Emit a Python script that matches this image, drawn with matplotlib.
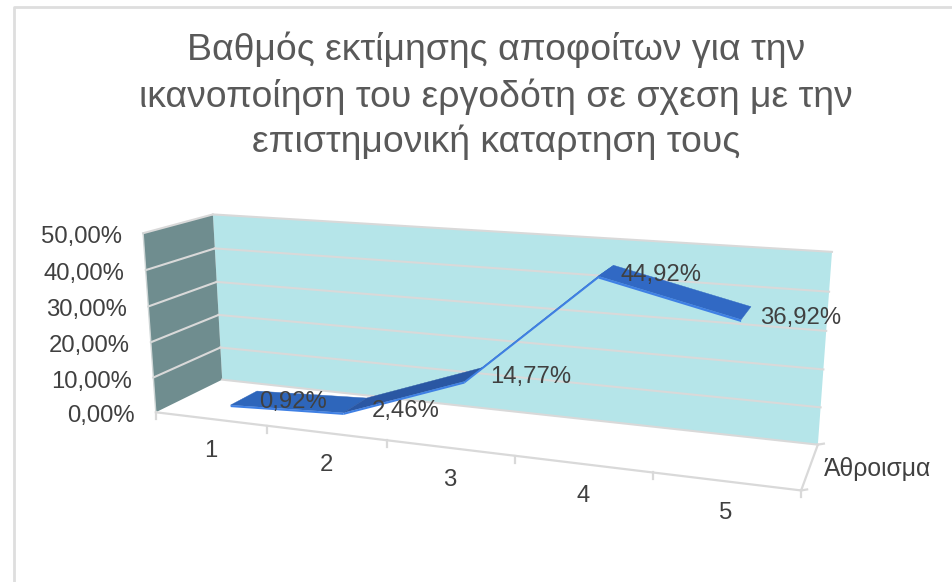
import numpy as np
import matplotlib
matplotlib.use("Agg")
import matplotlib.pyplot as plt
from matplotlib.patches import Polygon

categories = ["1", "2", "3", "4", "5"]
values = [0.92, 2.46, 14.77, 44.92, 36.92]
value_labels = ["0,92%", "2,46%", "14,77%", "44,92%", "36,92%"]
y_ticks = [0, 10, 20, 30, 40, 50]
y_tick_labels = ["0,00%", "10,00%", "20,00%", "30,00%", "40,00%", "50,00%"]
series_name = "Άθροισμα"
title = ("Βαθμός εκτίμησης αποφοίτων για την\n"
         "ικανοποίηση του εργοδότη σε σχεση με την\n"
         "επιστημονική καταρτηση τους")

plt.rcParams['font.family'] = ['Liberation Sans', 'DejaVu Sans']
W, H = 953, 582
fig = plt.figure(figsize=(W / 100, H / 100), dpi=100)
ax = fig.add_axes([0, 0, 1, 1])
ax.set_xlim(0, W)
ax.set_ylim(H, 0)
ax.axis("off")

# camera of the 3D box, solved from the box corners on screen
# (u along categories, v up, d into the depth)
corners = [((0, 1, 1), (213, 214.5)), ((0, 0, 1), (222, 380)),
           ((1, 1, 1), (832, 252)), ((1, 0, 1), (818, 444)),
           ((0, 1, 0), (143, 233)), ((0, 0, 0), (156, 412)),
           ((1, 0, 0), (801, 491))]
A, b = [], []
for (u, v, d), (x, y) in corners:
    A.append([u, v, d, 1, 0, 0, 0, 0, -x * u, -x * v, -x * d])
    b.append(x)
    A.append([0, 0, 0, 0, u, v, d, 1, -y * u, -y * v, -y * d])
    b.append(y)
P = np.append(np.linalg.lstsq(np.array(A, float), np.array(b, float), rcond=None)[0], 1).reshape(3, 4)


def proj(u, val, d):
    """category fraction, value in %, depth -> screen point"""
    q = P @ np.array([u, val / 50.0, d, 1.0])
    return q[0] / q[2], q[1] / q[2]


GRID = "#d9d9d9"
TEXT = "#404040"
FS = 17.2

# frame
ax.plot([14.5, 14.5, W], [H, 7, 7], color="#dedede", lw=2.0, zorder=1)

# walls
ax.add_patch(Polygon([proj(0, 0, 1), proj(1, 0, 1), proj(1, 50, 1), proj(0, 50, 1)],
                     fc="#b5e5e9", ec="none", zorder=2))
ax.add_patch(Polygon([proj(0, 0, 0), proj(0, 0, 1), proj(0, 50, 1), proj(0, 50, 0)],
                     fc="#6f8d8f", ec="none", zorder=2))

# gridlines
for t in y_ticks[1:]:
    ax.plot(*zip(proj(0, t, 1), proj(1, t, 1)), color=GRID, lw=1.5, zorder=3)
    ax.plot(*zip(proj(0, t, 0), proj(0, t, 1)), color=GRID, lw=1.5, zorder=3)
ax.plot(*zip(proj(0, 0, 1), proj(1, 0, 1)), color=GRID, lw=1.5, zorder=3)
ax.plot(*zip(proj(0, 0, 0), proj(0, 50, 0)), color="#cfd6d6", lw=1.0, zorder=3)

# floor edges and ticks
ax.plot(*zip(proj(0, 0, 0), proj(1, 0, 0)), color=GRID, lw=1.6, zorder=3)
ax.plot(*zip(proj(1, 0, 0), proj(1, 0, 1)), color=GRID, lw=1.6, zorder=3)
n = len(categories)
for i in range(n + 1):
    x, y = proj(i / n, 0, 0)
    ax.plot([x, x], [y, y + 7], color=GRID, lw=1.6, zorder=3)
for d in (0, 1):
    x, y = proj(1, 0, d)
    ax.plot([x, x + 6], [y, y - 1], color=GRID, lw=1.6, zorder=3)

# ribbon
D0, D1 = 0.30, 0.72
THICK = 0.6
top_colors = ["#2e66bb", "#2a57a3", "#2f68c0", "#3169c4"]
pos = [(i + 0.5) / n for i in range(n)]
for i in range(n - 1):
    u0, u1, v0, v1 = pos[i], pos[i + 1], values[i], values[i + 1]
    ax.add_patch(Polygon([proj(u0, v0, D0), proj(u1, v1, D0), proj(u1, v1, D1), proj(u0, v0, D1)],
                         fc=top_colors[i], ec=top_colors[i], lw=0.3, zorder=5))
    ax.add_patch(Polygon([proj(u0, v0, D0), proj(u1, v1, D0),
                          proj(u1, v1 - THICK, D0), proj(u0, v0 - THICK, D0)],
                         fc="#3f80e4", ec="none", zorder=6))

# value labels next to their points
label_offsets = [(62, -3), (62, -2), (66, -4), (63, -1), (59, -2)]
for u, val, txt, (dx, dy) in zip(pos, values, value_labels, label_offsets):
    x, y = proj(u, val, D0)
    ax.text(x + dx, y + dy, txt, fontsize=FS, color=TEXT, ha="center", va="center", zorder=8)

# axis labels
for t, txt in zip(y_ticks, y_tick_labels):
    x, y = proj(0, t, 0)
    ax.text(x - 21, y + 4, txt, fontsize=FS, color=TEXT, ha="right", va="center")
for u, txt in zip(pos, categories):
    x, y = proj(u, 0, 0)
    ax.text(x, y + 32, txt, fontsize=FS, color=TEXT, ha="center", va="center")
x, y = proj(1, 0, 0.5)
ax.text(x + 68, y + 3, series_name, fontsize=17.8, color=TEXT, ha="center", va="center")

# title
ax.text(496, 96, title, fontsize=26.9, color="#595959", ha="center", va="center",
        linespacing=1.36, multialignment="center")

fig.savefig("out.png", dpi=100, facecolor="white")
